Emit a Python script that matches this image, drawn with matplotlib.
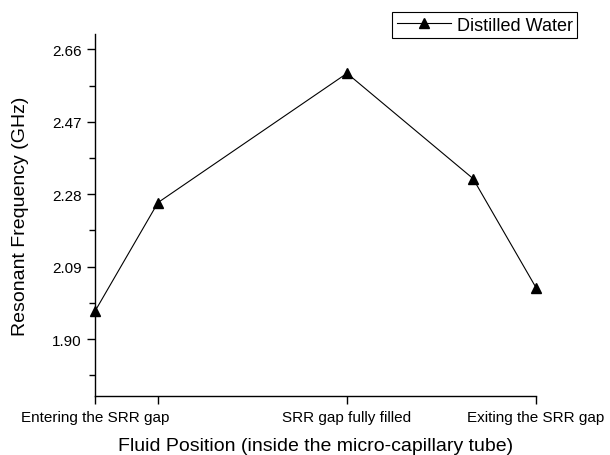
import matplotlib.pyplot as plt
import numpy as np

plt.rcParams['font.family'] = ['Liberation Sans', 'DejaVu Sans']

# fluid position along tube (arbitrary units) and resonant frequency
position = [0, 1, 4, 6, 7]
freq = [1.973, 2.258, 2.597, 2.321, 2.035]

tick_pos = [0, 1, 4, 7]
tick_labels = ['Entering the SRR gap', '', 'SRR gap fully filled', 'Exiting the SRR gap']
y_ticks = [1.90, 2.09, 2.28, 2.47, 2.66]

fig = plt.figure(figsize=(6.1, 4.56), dpi=100)
ax = fig.add_axes([0.1557, 0.1287, 0.7230, 0.7945])

ax.plot(position, freq, color='black', lw=0.8, marker='^', markersize=7.5,
        label='Distilled Water', clip_on=False, zorder=3)

ax.set_xlim(0, 7)
ax.set_xticks(tick_pos)
ax.set_xticklabels(tick_labels, fontsize=11)
ax.set_yticks(y_ticks)
ax.set_yticklabels(['%.2f' % v for v in y_ticks], fontsize=11)
ax.set_yticks(list(np.array(y_ticks) - 0.095) + [2.755], minor=True)
ax.set_ylim(1.75, 2.70)

for s in ['top', 'right']:
    ax.spines[s].set_visible(False)
for s in ['left', 'bottom']:
    ax.spines[s].set_linewidth(1.0)

ax.tick_params(axis='both', which='major', direction='out', length=6, width=1)
ax.tick_params(axis='y', which='minor', direction='out', length=4, width=1)

ax.set_xlabel('Fluid Position (inside the micro-capillary tube)', fontsize=14, labelpad=9.5)
ax.set_ylabel('Resonant Frequency (GHz)', fontsize=14, labelpad=17)

leg = fig.legend(loc='upper right', bbox_to_anchor=(0.946, 0.9715), fontsize=13,
                 fancybox=False, framealpha=1, edgecolor='black',
                 handlelength=3.0, borderpad=0.25, handletextpad=0.3,
                 borderaxespad=0)
leg.get_frame().set_linewidth(0.8)

fig.savefig('out.png', dpi=100)
